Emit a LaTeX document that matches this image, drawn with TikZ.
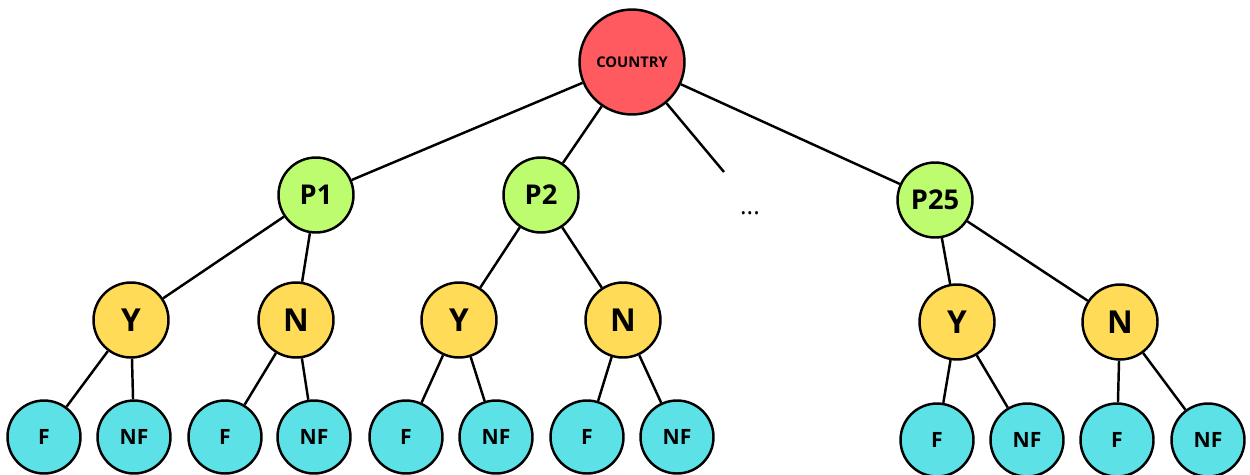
\documentclass[tikz,border=0pt]{standalone}
\usepackage{fontspec}
\setmainfont{Open Sans}
\definecolor{rootred}{HTML}{FF5A5F}
\definecolor{provgreen}{HTML}{BDFB6F}
\definecolor{ansyellow}{HTML}{FFDB58}
\definecolor{leafcyan}{HTML}{5CE1E6}
\begin{document}
\begin{tikzpicture}[x=0.02cm,y=-0.02cm,
  base/.style={circle,draw=black,line width=1.4pt,inner sep=0pt,font=\bfseries},
  rootnode/.style={base,fill=rootred,minimum size=2.1cm,font=\bfseries\fontsize{8.4}{10}\selectfont},
  prov/.style={base,fill=provgreen,minimum size=1.5cm,font=\bfseries\fontsize{15.5}{18}\selectfont},
  ans/.style={base,fill=ansyellow,minimum size=1.5cm,font=\bfseries\fontsize{18}{21}\selectfont},
  leaf/.style={base,fill=leafcyan,minimum size=1.46cm,font=\bfseries\fontsize{12}{14}\selectfont},
  edge/.style={line width=1.4pt,black}]
\useasboundingbox (0,0) rectangle (1250,474);
% tree nodes
\node[rootnode] (c) at (632,62) {COUNTRY};
\node[prov] (p1) at (316,195) {P1};
\node[prov] (p2) at (541,195) {P2};
\node[prov] (p25) at (935,200) {P25};
\node (dots) at (750,213) {\fontsize{14}{16}\selectfont ...};
\coordinate (more) at (724,172);
\node[ans] (y1) at (131,320) {Y};
\node[ans] (n1) at (296,320) {N};
\node[ans] (y2) at (459,320) {Y};
\node[ans] (n2) at (623,320) {N};
\node[ans] (y25) at (957,322) {Y};
\node[ans] (n25) at (1120,322) {N};
\node[leaf] (f1a) at (44,437) {F};
\node[leaf] (nf1a) at (134,437) {NF};
\node[leaf] (f1b) at (225,437) {F};
\node[leaf] (nf1b) at (314,437) {NF};
\node[leaf] (f2a) at (406,437) {F};
\node[leaf] (nf2a) at (496,437) {NF};
\node[leaf] (f2b) at (587,437) {F};
\node[leaf] (nf2b) at (677,437) {NF};
\node[leaf] (f25a) at (937,440) {F};
\node[leaf] (nf25a) at (1027,440) {NF};
\node[leaf] (f25b) at (1117,440) {F};
\node[leaf] (nf25b) at (1208,440) {NF};
% connectors
\draw[edge] (c) -- (p1);
\draw[edge] (c) -- (p2);
\draw[edge] (c) -- (p25);
\draw[edge] (c) -- (more);
\draw[edge] (p1) -- (y1);
\draw[edge] (p1) -- (n1);
\draw[edge] (p2) -- (y2);
\draw[edge] (p2) -- (n2);
\draw[edge] (p25) -- (y25);
\draw[edge] (p25) -- (n25);
\draw[edge] (y1) -- (f1a);
\draw[edge] (y1) -- (nf1a);
\draw[edge] (n1) -- (f1b);
\draw[edge] (n1) -- (nf1b);
\draw[edge] (y2) -- (f2a);
\draw[edge] (y2) -- (nf2a);
\draw[edge] (n2) -- (f2b);
\draw[edge] (n2) -- (nf2b);
\draw[edge] (y25) -- (f25a);
\draw[edge] (y25) -- (nf25a);
\draw[edge] (n25) -- (f25b);
\draw[edge] (n25) -- (nf25b);
\end{tikzpicture}
\end{document}
